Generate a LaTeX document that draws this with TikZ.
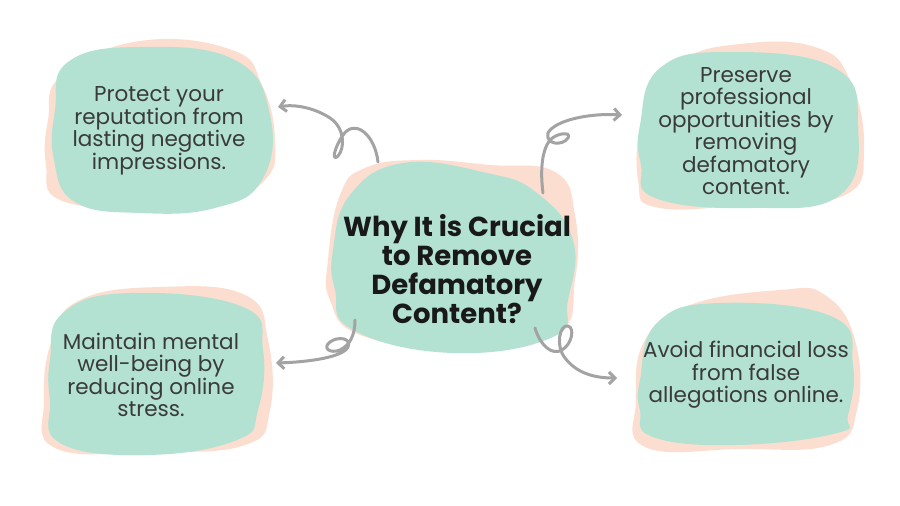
\documentclass[tikz,border=0pt]{standalone}
\usepackage{fontspec}
\setmainfont{Poppins}
\usetikzlibrary{arrows.meta}
\definecolor{mint}{RGB}{179,226,210}
\definecolor{peach}{RGB}{252,222,208}
\definecolor{txt}{RGB}{58,58,58}
\definecolor{ttl}{RGB}{25,25,25}
\definecolor{conn}{RGB}{163,163,163}
\tikzset{
  mintblob/.style={fill=mint, draw=none},
  peachblob/.style={fill=peach, draw=none},
  itemtext/.style={align=center, text=txt, font=\fontsize{21.5}{22.5}\selectfont, inner sep=0pt},
  titletext/.style={align=center, text=ttl, font=\bfseries\fontsize{27.5}{29}\selectfont, inner sep=0pt},
  curlyarrow/.style={draw=conn, line width=3pt, line cap=round, line join=round, -{Straight Barb[length=6pt,width=12pt,line width=3pt]}}
}
\begin{document}
\begin{tikzpicture}[x=1pt,y=-1pt]
\fill[white] (0,0) rectangle (900,506);
\useasboundingbox (0,0) rectangle (900,506);
% peach backdrops
\fill[peachblob] plot[smooth cycle, tension=0.75] coordinates {(48,120) (62,75) (140,41) (232,50) (262,85) (275,140) (265,180) (215,205) (140,208) (60,200) (46,165)};
\fill[peachblob] plot[smooth cycle, tension=0.75] coordinates {(645,110) (680,62) (740,44) (815,47) (850,80) (864,150) (845,195) (760,203) (660,208) (638,180)};
\fill[peachblob] plot[smooth cycle, tension=0.75] coordinates {(328,260) (340,195) (365,168) (420,160) (490,165) (555,172) (575,215) (575,280) (555,335) (455,348) (360,335) (330,300)};
\fill[peachblob] plot[smooth cycle, tension=0.75] coordinates {(52,340) (80,300) (160,287) (245,295) (268,340) (270,410) (245,445) (150,452) (55,448) (44,400)};
\fill[peachblob] plot[smooth cycle, tension=0.75] coordinates {(645,340) (690,305) (780,290) (825,295) (855,340) (857,410) (830,445) (740,449) (645,447) (636,400)};
% mint blobs
\fill[mintblob] plot[smooth cycle, tension=0.75] coordinates {(55,110) (68,62) (140,47) (235,60) (270,115) (262,180) (215,208) (140,213) (75,202) (54,160)};
\fill[mintblob] plot[smooth cycle, tension=0.75] coordinates {(640,125) (660,68) (730,52) (835,68) (858,125) (840,195) (750,208) (655,198) (641,165)};
\fill[mintblob] plot[smooth cycle, tension=0.75] coordinates {(333,250) (350,195) (403,163) (487,173) (537,193) (573,240) (568,300) (553,337) (453,353) (353,330) (335,290)};
\fill[mintblob] plot[smooth cycle, tension=0.75] coordinates {(50,360) (63,313) (130,293) (243,307) (263,350) (258,410) (237,440) (147,455) (60,443) (50,400)};
\fill[mintblob] plot[smooth cycle, tension=0.75] coordinates {(640,380) (657,323) (720,303) (833,317) (853,365) (848,415) (837,433) (737,445) (653,437) (640,410)};

% texts
\node[titletext] (title) at (457,269) {Why It is Crucial\\to Remove\\Defamatory\\Content?};
\node[itemtext] (tl) at (159,131) {Protect your\\reputation from\\lasting negative\\impressions.};
\node[itemtext] (tr) at (746,131) {Preserve\\professional\\opportunities by\\removing\\defamatory\\content.};
\node[itemtext] (bl) at (151,375) {Maintain mental\\well-being by\\reducing online\\stress.};
\node[itemtext] (br) at (746,375) {Avoid financial loss\\from false\\allegations online.};

% connector end points
\coordinate (tlS) at (378,162);
\coordinate (tlE) at (278,107);
\coordinate (trS) at (543,193);
\coordinate (trE) at (622,115);
\coordinate (blS) at (355,320);
\coordinate (blE) at (276,363);
\coordinate (brS) at (535,328);
\coordinate (brE) at (617,378);

\draw[curlyarrow] (tlS) .. controls (375,135) and (355,118) .. (343,135) .. controls (333,150) and (332,162) .. (338,156) .. controls (345,148) and (345,128) .. (330,118) .. controls (315,108) and (295,104) .. (tlE);
\draw[curlyarrow] (trS) .. controls (540,170) and (542,150) .. (550,140) .. controls (558,132) and (572,132) .. (568,138) .. controls (563,146) and (545,145) .. (548,133) .. controls (555,120) and (590,113) .. (trE);
\draw[curlyarrow] (blS) .. controls (355,335) and (350,345) .. (340,350) .. controls (330,354) and (322,348) .. (330,342) .. controls (338,336) and (352,338) .. (348,347) .. controls (343,357) and (310,362) .. (blE);
\draw[curlyarrow] (brS) .. controls (540,345) and (552,356) .. (562,350) .. controls (572,344) and (575,328) .. (568,326) .. controls (560,324) and (555,345) .. (565,358) .. controls (578,375) and (598,378) .. (brE);
\end{tikzpicture}
\end{document}
